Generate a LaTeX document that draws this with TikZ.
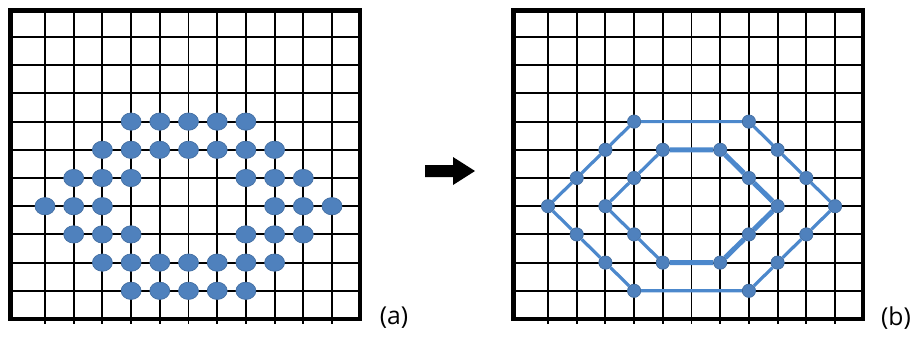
\documentclass[tikz,border=0pt]{standalone}
\usepackage{fontspec}
\setmainfont{Open Sans}
\definecolor{dotblue}{RGB}{79,129,189}
\definecolor{lineblue}{RGB}{76,136,204}
\usetikzlibrary{shapes.geometric}

\begin{document}
\begin{tikzpicture}[x=0.75pt,y=0.75pt,yscale=-1,xscale=1,
	gridline/.style={line width=1.4pt},
	frameline/.style={line width=3.3pt},
	dotA/.style={ellipse,fill=dotblue,draw=dotblue!85!black,line width=0.5pt,minimum width=15pt,minimum height=13pt,inner sep=0pt},
	dotB/.style={circle,fill=dotblue,draw=dotblue!85!black,line width=0.5pt,minimum size=10pt,inner sep=0pt},
	hexline/.style={draw=lineblue,line width=2.4pt},
	hexthick/.style={draw=lineblue,line width=3.8pt},
	tag/.style={font=\fontsize{18.5}{22}\selectfont,inner sep=0pt}]
	\useasboundingbox (0,0) rectangle (919,337);
	
	%Shape: Grid (a) and (b)
	\foreach \ox in {0,503} {
		\foreach \c in {0,...,10}
			\draw [gridline] ({\ox+45+28.7*\c},10.5) -- ({\ox+45+28.7*\c},324) ;
		\foreach \r in {0,...,9}
			\draw [gridline] ({\ox+10.5},{37+28.2*\r}) -- ({\ox+360},{37+28.2*\r}) ;
		\draw [frameline] ({\ox+10.5},10.5) rectangle ({\ox+360},319) ;
	}
	
	%Shape: Dots (a)
	\foreach \c/\r in {3/3,4/3,5/3,6/3,7/3,
		2/4,3/4,4/4,5/4,6/4,7/4,8/4,
		1/5,2/5,3/5,7/5,8/5,9/5,
		0/6,1/6,2/6,8/6,9/6,10/6,
		1/7,2/7,3/7,7/7,8/7,9/7,
		2/8,3/8,4/8,5/8,6/8,7/8,8/8,
		3/9,4/9,5/9,6/9,7/9}
		\node [dotA] (a-\c-\r) at ({45+28.7*\c},{37+28.2*\r}) {};
	
	%Shape: Dots (b)
	\foreach \c/\r in {3/3,7/3,2/4,8/4,1/5,9/5,0/6,10/6,1/7,9/7,2/8,8/8,3/9,7/9,
		4/4,6/4,3/5,7/5,2/6,8/6,3/7,7/7,4/8,6/8}
		\node [dotB] (b-\c-\r) at ({548+28.7*\c},{37+28.2*\r}) {};
	
	%Straight Lines: outer hexagon
	\draw [hexline] (b-3-3) -- (b-7-3) -- (b-8-4) -- (b-9-5) -- (b-10-6) -- (b-9-7) -- (b-8-8) -- (b-7-9)
		-- (b-3-9) -- (b-2-8) -- (b-1-7) -- (b-0-6) -- (b-1-5) -- (b-2-4) -- (b-3-3) ;
	%Straight Lines: inner hexagon
	\draw [hexline] (b-4-8) -- (b-3-7) -- (b-2-6) -- (b-3-5) -- (b-4-4) ;
	\draw [hexthick] (b-4-4) -- (b-6-4) -- (b-7-5) -- (b-8-6) -- (b-7-7) -- (b-6-8) -- (b-4-8) ;
	
	%Shape: Arrow
	\fill [black] (425,165) -- (453,165) -- (453,157) -- (475,171) -- (453,185) -- (453,177) -- (425,177) -- cycle ;
	
	% Text Node
	\node [tag] (lab-a) at (394,318) {(a)};
	% Text Node
	\node [tag] (lab-b) at (896,318) {(b)};
	
\end{tikzpicture}
\end{document}
